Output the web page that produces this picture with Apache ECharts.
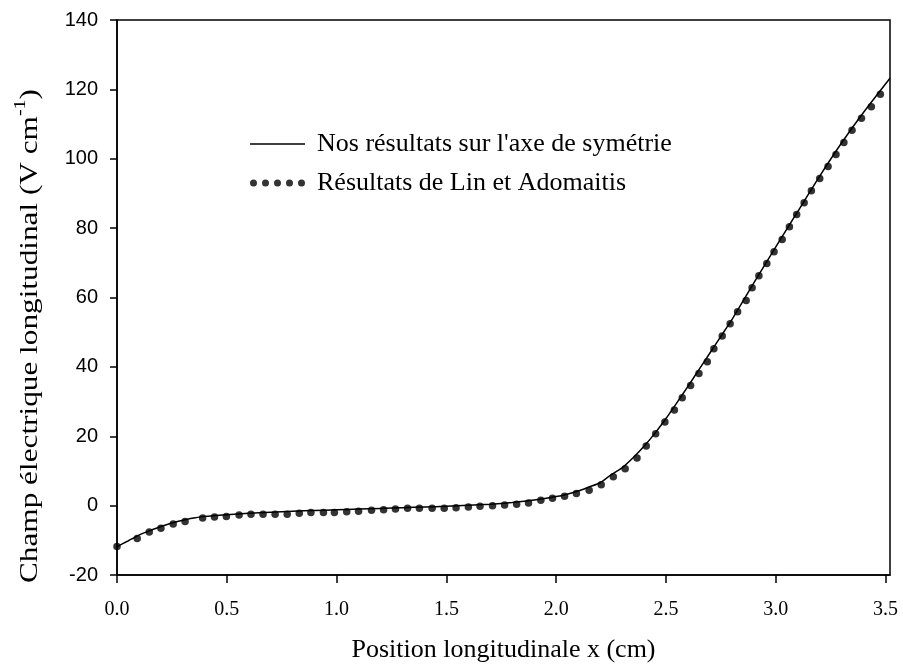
<!DOCTYPE html>
<html>
<head>
<meta charset="utf-8">
<script src="https://cdn.jsdelivr.net/npm/echarts@6/dist/echarts.min.js"></script>
<style>
html,body{margin:0;padding:0;background:#fff;}
#chart{width:903px;height:670px;}
</style>
</head>
<body>
<div id="chart"></div>
<script>
// Series 1: "Nos résultats sur l'axe de symétrie" (solid line)
const lineX = [0,0.05,0.1,0.15,0.2,0.25,0.3,0.35,0.4,0.5,0.6,0.7,0.8,0.9,1.0,1.1,1.2,1.3,1.4,1.5,1.6,1.7,1.8,1.9,2.0,2.05,2.1,2.15,2.2,2.25,2.3,2.35,2.4,2.45,2.5,2.55,2.6,2.65,2.7,2.75,2.8,2.9,3.0,3.1,3.2,3.3,3.4,3.52];
const lineY = [-11.8,-10.2,-8.5,-7.2,-6.0,-5.0,-4.2,-3.6,-3.1,-2.6,-2.2,-1.9,-1.6,-1.4,-1.2,-1.0,-0.8,-0.6,-0.4,-0.2,0.1,0.4,0.9,1.6,2.6,3.3,4.2,5.4,6.6,8.9,10.9,13.8,17.1,20.9,25.1,29.7,34.4,39.2,44.0,48.8,53.6,64.2,74.6,84.8,95.0,104.6,113.4,123.2];

// Series 2: "Résultats de Lin et Adomaitis" (dots)
const dotX = [0,0.092,0.147,0.2,0.256,0.31,0.39,0.444,0.498,0.556,0.61,0.665,0.72,0.775,0.83,0.883,0.94,0.99,1.046,1.1,1.159,1.214,1.268,1.323,1.377,1.435,1.49,1.544,1.6,1.653,1.71,1.765,1.82,1.874,1.93,1.983,2.038,2.092,2.15,2.205,2.26,2.314,2.368,2.41,2.453,2.495,2.538,2.574,2.612,2.65,2.688,2.718,2.756,2.792,2.826,2.865,2.892,2.923,2.959,2.992,3.029,3.062,3.095,3.129,3.162,3.2,3.238,3.274,3.31,3.347,3.39,3.435,3.476];
const dotY = [-11.8,-9.5,-7.6,-6.5,-5.3,-4.6,-3.6,-3.3,-3.1,-2.7,-2.5,-2.5,-2.5,-2.5,-2.2,-2.0,-2.0,-2.0,-1.8,-1.6,-1.35,-1.16,-0.97,-0.77,-0.77,-0.77,-0.77,-0.58,-0.39,-0.19,0,0.19,0.39,0.77,1.55,2.1,2.7,3.5,4.4,6.0,8.3,10.6,13.7,17.2,20.7,24.1,27.6,31.1,34.6,38.1,41.5,45.2,48.9,52.4,55.9,59.1,62.8,66.3,69.8,73.2,76.7,80.4,83.9,87.3,90.8,94.3,97.8,101.2,104.7,108.2,111.7,115.0,118.6];

const seriesNames = ["Nos résultats sur l'axe de symétrie", "Résultats de Lin et Adomaitis"];
const xTitle = "Position longitudinale x (cm)";
const yTitleMain = "Champ électrique longitudinal (V cm";
const yTitleSup = "-1";
const yTitleEnd = ")";

const lineData = lineX.map((x, i) => [x, lineY[i]]);
const dotData = dotX.map((x, i) => [x, dotY[i]]);

const serif = "'Liberation Serif', 'Times New Roman', serif";
const sans = "'Liberation Sans', Arial, sans-serif";

function dotsPath() {
  let p = '';
  for (let i = 0; i < 5; i++) {
    const cx = 3.5 + i * 12;
    p += 'M' + (cx - 3.5) + ',3.5a3.5,3.5 0 1,0 7,0a3.5,3.5 0 1,0 -7,0Z';
  }
  return 'path://' + p;
}
const linePath = 'path://M0,0h55v1.5h-55Z';

const chart = echarts.init(document.getElementById('chart'), null, {renderer: 'canvas'});
chart.setOption({
  animation: false,
  backgroundColor: '#fff',
  grid: {left: 117, right: 13, top: 20, bottom: 95, show: true, borderColor: '#000', borderWidth: 1.5, backgroundColor: 'transparent'},
  legend: {
    orient: 'vertical',
    left: 245,
    top: 124,
    itemWidth: 55,
    itemHeight: 7,
    itemGap: 9,
    symbolKeepAspect: true,
    textStyle: {fontFamily: serif, fontSize: 26, color: '#000', lineHeight: 30, padding: [0, 0, 0, 7]},
    data: [
      {name: seriesNames[0], icon: linePath},
      {name: seriesNames[1], icon: dotsPath()}
    ]
  },
  xAxis: {
    type: 'value', min: 0, max: 3.52, interval: 0.5,
    name: xTitle, nameLocation: 'middle', nameGap: 62,
    nameTextStyle: {fontFamily: serif, fontSize: 26, color: '#000'},
    axisLine: {onZero: false, lineStyle: {color: '#000', width: 1.5}},
    axisTick: {inside: false, length: 8, lineStyle: {color: '#000', width: 1.5}},
    axisLabel: {fontFamily: serif, fontSize: 20, color: '#000', margin: 25, formatter: v => v.toFixed(1)},
    splitLine: {show: false}
  },
  yAxis: {
    type: 'value', min: -20, max: 140, interval: 20,
    axisLine: {onZero: false, lineStyle: {color: '#000', width: 1.5}},
    axisTick: {inside: false, length: 7, lineStyle: {color: '#000', width: 1.5}},
    axisLabel: {fontFamily: sans, fontSize: 20, color: '#000', margin: 19},
    splitLine: {show: false}
  },
  graphic: [{
    type: 'text',
    x: 28, y: 336,
    rotation: Math.PI / 2,
    scaleX: 1.25,
    style: {
      text: '{m|' + yTitleMain + '}{s|' + yTitleSup + '}{m|' + yTitleEnd + '}',
      align: 'center', verticalAlign: 'middle',
      fill: '#000',
      rich: {
        m: {fontFamily: serif, fontSize: 25, fill: '#000', lineHeight: 30, verticalAlign: 'bottom'},
        s: {fontFamily: serif, fontSize: 16, fill: '#000', lineHeight: 30, verticalAlign: 'top'}
      }
    }
  }],
  series: [
    {
      name: seriesNames[0], type: 'line', data: lineData, smooth: 0.2,
      symbol: 'none', lineStyle: {color: '#000', width: 1.5}, itemStyle: {color: '#000'}, z: 3
    },
    {
      name: seriesNames[1], type: 'scatter', data: dotData,
      symbol: 'circle', symbolSize: 7.5, itemStyle: {color: '#000'}, z: 2
    }
  ]
});
</script>
</body>
</html>
